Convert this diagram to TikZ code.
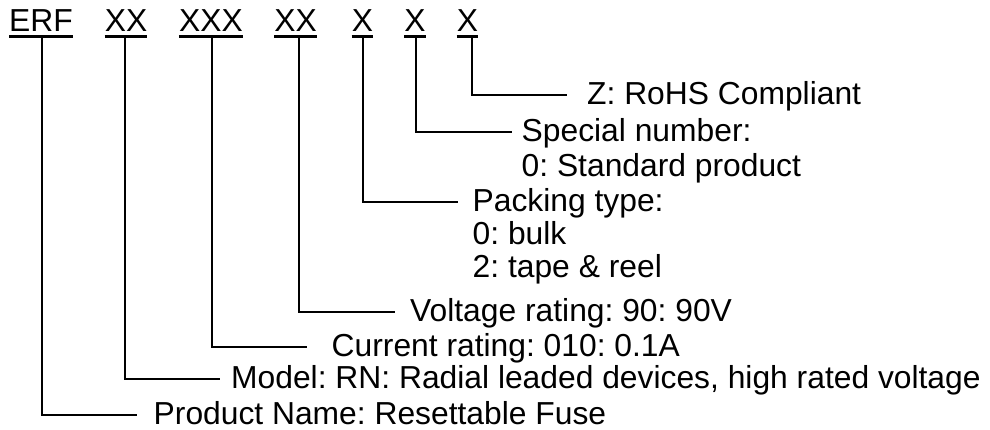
\documentclass[tikz,border=0pt]{standalone}
\usepackage{fontspec}
\setmainfont{Liberation Sans}
\usetikzlibrary{positioning}
\frenchspacing
\tikzset{%
	code/.style={inner xsep=0pt, inner ysep=4.5pt, text depth=0pt, anchor=base,%
		font=\fontsize{31.8}{34}\selectfont},
	lbl/.style={inner sep=0pt, text height=19pt, text depth=0pt, anchor=west,%
		font=\fontsize{31.8}{34}\selectfont},
	uline/.style={line width=3pt},
	conn/.style={line width=2pt}
}
\begin{document}
\begin{tikzpicture}[x=1pt, y=1pt]
		\useasboundingbox (0,0) rectangle (990,430);
		% code fields
		\node[code] (erf) at (41,398)    {ERF};
		\node[code] (md)  at (126,398)   {XX};
		\node[code] (cr)  at (211,398)   {XXX};
		\node[code] (vr)  at (295.5,398) {XX};
		\node[code] (pt)  at (362.5,398) {X};
		\node[code] (sn)  at (415,398)   {X};
		\node[code] (rh)  at (467.5,398) {X};
		\foreach \n in {erf, md, cr, vr, pt, sn, rh}
			\draw[uline] (\n.south west) -- (\n.south east);

		% line ends
		\coordinate (c-rh) at (567,334.5);
		\coordinate (c-sn) at (512,297.5);
		\coordinate (c-pt) at (458,228.3);
		\coordinate (c-vr) at (395,118.3);
		\coordinate (c-cr) at (307,83.3);
		\coordinate (c-md) at (220,50.7);
		\coordinate (c-erf) at (137,14.5);

		% descriptions
		\node[lbl, right=20pt of c-rh]   (rohs) {Z: RoHS Compliant};
		\node[lbl, right=9.5pt of c-sn]  (spec) {Special number:};
		\node[lbl, below=15pt of spec.south west, anchor=north west] (spec-0) {0: Standard product};
		\node[lbl, right=14.5pt of c-pt] (pack) {Packing type:};
		\node[lbl, below=14pt of pack.south west, anchor=north west] (pack-0) {0: bulk};
		\node[lbl, below=14pt of pack-0.south west, anchor=north west] (pack-2) {2: tape \& reel};
		\node[lbl, right=15pt of c-vr]   (volt) {Voltage rating: 90: 90V};
		\node[lbl, right=24.5pt of c-cr] (curr) {Current rating: 010: 0.1A};
		\node[lbl, right=11pt of c-md]   (model) {Model: RN: Radial leaded devices, high rated voltage};
		\node[lbl, right=16.5pt of c-erf] (pname) {Product Name: Resettable Fuse};

		\draw[conn] (rh.south) ++(4.5pt,0) |- (c-rh);
		\draw[conn] (sn.south) ++(1pt,0) |- (c-sn);
		\draw[conn] (pt.south) |- (c-pt);
		\draw[conn] (vr.south) ++(3.5pt,0) |- (c-vr);
		\draw[conn] (cr.south) ++(1pt,0) |- (c-cr);
		\draw[conn] (md.south) ++(-1pt,0) |- (c-md);
		\draw[conn] (erf.south) ++(1pt,0) |- (c-erf);
	\end{tikzpicture}
\end{document}
